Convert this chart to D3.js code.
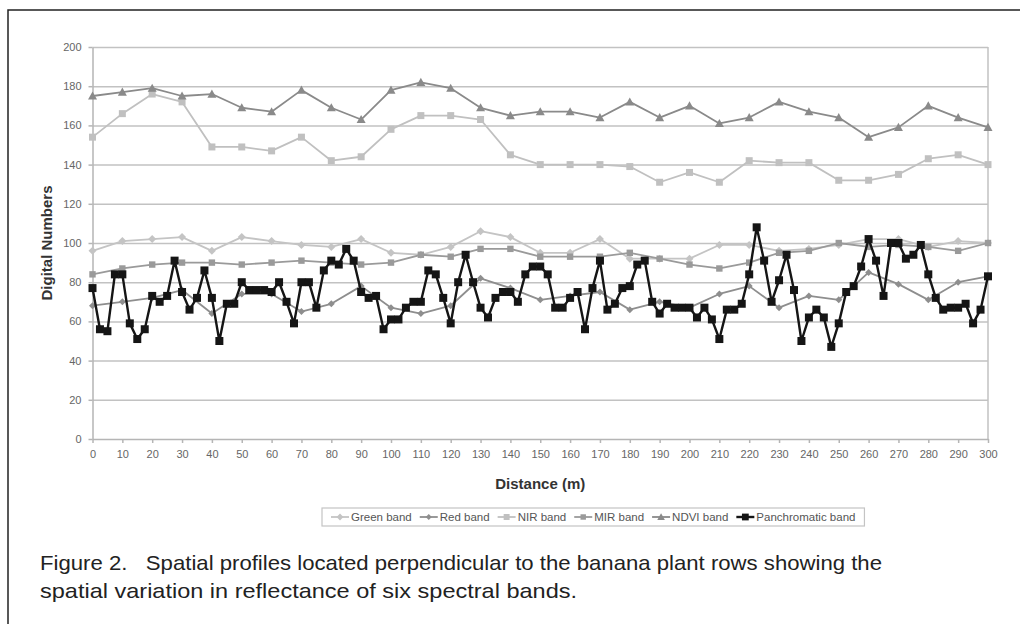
<!DOCTYPE html>
<html lang="en">
<head>
<meta charset="utf-8">
<style>
  body { margin: 0; background: white; }
  svg { font-family: "Liberation Sans", Arial, sans-serif; }
  .axis text { fill: #666; font-size: 11px; font-family: "Liberation Sans", Arial, sans-serif; }
  .axis path, .axis line { stroke: #b5b5b5; stroke-width: 1.5; }
  .grid line { stroke: #c2c2c2; stroke-width: 1.5; }
  .grid path { display: none; }
  .title { font-weight: bold; fill: #333; font-size: 15px; }
  .legend text { font-size: 11.5px; fill: #555; }
  .caption { font-family: "Liberation Sans Narrow", "Liberation Sans", Arial, sans-serif; font-size: 21px; fill: #222; white-space: pre; }
</style>
</head>
<body>
<svg width="1020" height="624"></svg>
<script src="https://cdnjs.cloudflare.com/ajax/libs/d3/7.8.5/d3.min.js"></script>
<script>
// distances (m) for the six-band profiles, every 10 m
const distance = d3.range(0, 301, 10)
// panchromatic band sampled every 2.5 m
const panDistance = d3.range(0, 300.1, 2.5)

const green = [96, 101, 102, 103, 96, 103, 101, 99, 98, 102, 95, 94, 98, 106, 103, 95,
               95, 102, 92, 92, 92, 99, 99, 96, 97, 99, 102, 102, 98, 101, 100]
const red = [68, 70, 72, 76, 64, 74, 74, 65, 69, 78, 67, 64, 68, 82, 77, 71,
             73, 75, 66, 70, 67, 74, 78, 67, 73, 71, 85, 79, 71, 80, 83]
const nir = [154, 166, 176, 172, 149, 149, 147, 154, 142, 144, 158, 165, 165, 163, 145, 140,
             140, 140, 139, 131, 136, 131, 142, 141, 141, 132, 132, 135, 143, 145, 140]
const mir = [84, 87, 89, 90, 90, 89, 90, 91, 90, 89, 90, 94, 93, 97, 97, 93,
             93, 93, 95, 92, 89, 87, 90, 95, 96, 100, 98, 99, 98, 96, 100]
const ndvi = [175, 177, 179, 175, 176, 169, 167, 178, 169, 163, 178, 182, 179, 169, 165, 167,
              167, 164, 172, 164, 170, 161, 164, 172, 167, 164, 154, 159, 170, 164, 159]
const pan = [77, 56, 55, 84, 84, 59, 51, 56, 73, 70, 73, 91, 75, 66, 72, 86, 72, 50, 69, 69,
             80, 76, 76, 76, 75, 80, 70, 59, 80, 80, 67, 86, 91, 89, 97, 91, 75, 72, 73, 56,
             61, 61, 67, 70, 70, 86, 84, 72, 59, 80, 94, 80, 67, 62, 72, 75, 75, 70, 84, 88,
             88, 84, 67, 67, 72, 75, 56, 77, 91, 66, 69, 77, 78, 89, 91, 70, 64, 69, 67, 67,
             67, 62, 67, 61, 51, 66, 66, 69, 84, 108, 91, 70, 81, 94, 76, 50, 62, 66, 62, 47,
             59, 75, 78, 88, 102, 91, 73, 100, 100, 92, 94, 99, 84, 72, 66, 67, 67, 69, 59, 66, 83]

const yTicks = d3.range(0, 201, 20)
const xTicks = d3.range(0, 301, 10)

const seriesNames = ["Green band", "Red band", "NIR band", "MIR band", "NDVI band", "Panchromatic band"]
const captionLines = [
  "Figure 2.   Spatial profiles located perpendicular to the banana plant rows showing the",
  "spatial variation in reflectance of six spectral bands."
]

const series = [
  { name: seriesNames[0], xs: distance, ys: green, color: "#c4c4c4", marker: "diamond", size: 4, width: 1.8 },
  { name: seriesNames[1], xs: distance, ys: red, color: "#8e8e8e", marker: "diamond", size: 3.5, width: 1.8 },
  { name: seriesNames[2], xs: distance, ys: nir, color: "#c0c0c0", marker: "square", size: 3.5, width: 1.8 },
  { name: seriesNames[3], xs: distance, ys: mir, color: "#9a9a9a", marker: "square", size: 3.2, width: 1.8 },
  { name: seriesNames[4], xs: distance, ys: ndvi, color: "#8a8a8a", marker: "triangle", size: 4.5, width: 1.8 },
  { name: seriesNames[5], xs: panDistance, ys: pan, color: "#151515", marker: "square", size: 4, width: 2.4 }
]

const svg = d3.select("svg")

// page frame (top and left edges visible)
svg.append("path")
  .attr("d", "M8,1000 V10 H1030")
  .attr("fill", "none")
  .attr("stroke", "#222")
  .attr("stroke-width", 1.5)

const x = d3.scaleLinear().domain([0, 300]).range([92.5, 988])
const y = d3.scaleLinear().domain([0, 200]).range([439, 47])

// gridlines
svg.append("g")
  .attr("class", "grid")
  .attr("transform", "translate(" + x(0) + ",0)")
  .call(d3.axisLeft(y).tickValues(yTicks.slice(1)).tickSize(-(x(300) - x(0))).tickFormat(""))

// right border of the plot area
svg.append("line")
  .attr("x1", x(300)).attr("x2", x(300))
  .attr("y1", y(200)).attr("y2", y(0))
  .attr("stroke", "#c2c2c2").attr("stroke-width", 1.5)

svg.append("g")
  .attr("class", "axis y")
  .attr("transform", "translate(" + x(0) + ",0)")
  .call(d3.axisLeft(y).tickValues(yTicks).tickSize(4).tickSizeOuter(0).tickPadding(7))

svg.append("g")
  .attr("class", "axis x")
  .attr("transform", "translate(0," + y(0) + ")")
  .call(d3.axisBottom(x).tickValues(xTicks).tickSize(4).tickSizeOuter(0).tickPadding(7))

svg.append("text")
  .attr("class", "title")
  .attr("transform", "translate(52," + y(100) + ") rotate(-90)")
  .attr("text-anchor", "middle")
  .text("Digital Numbers")

svg.append("text")
  .attr("class", "title")
  .attr("x", (x(0) + x(300)) / 2)
  .attr("y", 489)
  .attr("text-anchor", "middle")
  .text("Distance (m)")

function markerPath(type, s) {
  if (type === "diamond") return "M0," + (-s) + "L" + s + ",0L0," + s + "L" + (-s) + ",0Z"
  if (type === "triangle") return "M0," + (-s) + "L" + s + "," + (s * 0.8) + "L" + (-s) + "," + (s * 0.8) + "Z"
  return "M" + (-s) + "," + (-s) + "H" + s + "V" + s + "H" + (-s) + "Z"
}

const line = d3.line()
  .x(function (d) { return x(d[0]) })
  .y(function (d) { return y(d[1]) })

series.forEach(function (s) {
  const pts = s.xs.map(function (d, i) { return [d, s.ys[i]] })
  const g = svg.append("g").attr("class", "series")
  g.append("path")
    .datum(pts)
    .attr("fill", "none")
    .attr("stroke", s.color)
    .attr("stroke-width", s.width)
    .attr("stroke-linejoin", "round")
    .attr("d", line)
  g.selectAll("path.mark")
    .data(pts)
    .enter()
    .append("path")
    .attr("class", "mark")
    .attr("transform", function (d) { return "translate(" + x(d[0]) + "," + y(d[1]) + ")" })
    .attr("d", markerPath(s.marker, s.size))
    .attr("fill", s.color)
})

// legend
const legend = svg.append("g").attr("class", "legend")
const box = legend.append("rect")
  .attr("fill", "white").attr("stroke", "#c4c4c4").attr("stroke-width", 1.2)
let lx = 331
const ly = 517
series.forEach(function (s) {
  legend.append("line")
    .attr("x1", lx).attr("x2", lx + 18).attr("y1", ly).attr("y2", ly)
    .attr("stroke", s.color).attr("stroke-width", s.width)
  legend.append("path")
    .attr("transform", "translate(" + (lx + 9) + "," + ly + ")")
    .attr("d", markerPath(s.marker, s.size * 0.85))
    .attr("fill", s.color)
  const t = legend.append("text")
    .attr("x", lx + 20).attr("y", ly + 4)
    .text(s.name)
  lx += 20 + t.node().getComputedTextLength() + 8
})
box.attr("x", 322).attr("y", 508).attr("width", lx - 322 + 1).attr("height", 18)

// caption
const captionWidths = [842, 537]
captionLines.forEach(function (c, i) {
  svg.append("text")
    .attr("class", "caption")
    .attr("x", 40)
    .attr("y", 570 + i * 28)
    .attr("textLength", captionWidths[i])
    .attr("lengthAdjust", "spacingAndGlyphs")
    .text(c)
})
</script>
</body>
</html>
